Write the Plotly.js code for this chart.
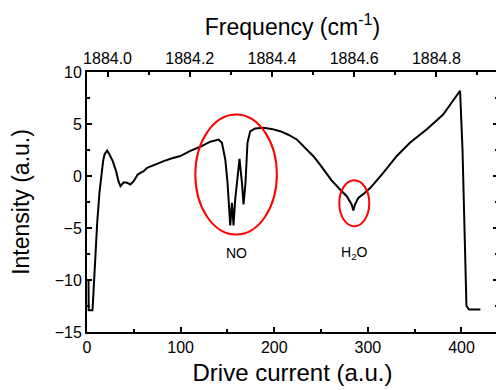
<!DOCTYPE html>
<html>
<head>
<meta charset="utf-8">
<script src="https://cdn.plot.ly/plotly-3.0.1.min.js"></script>
<style>
html,body{margin:0;padding:0;overflow:hidden;background:#fff;}
#chart{width:498px;height:390px;}
</style>
</head>
<body>
<div id="chart"></div>
<script>
// Drive current (a.u.)
var driveCurrent = [1.6, 1.8, 5.9, 7.2, 8.7, 10.9, 13.3, 15.8, 17.3, 18.7, 20.2, 21.5, 24, 27.5, 31.1, 33.6, 35.7, 37.5, 39.3, 42.8, 46.4, 49.9, 54.2, 57.5, 60.6, 64.2, 72, 81.9, 90, 99.7, 110.3, 121, 131.7, 137, 140.5, 144.1, 147.7, 150.1, 152.2, 153, 154.8, 156.5, 158.3, 160.8, 162.9, 165.5, 167.2, 169.3, 171.4, 174.3, 179.6, 188.5, 197, 206.3, 215, 224.1, 233, 241.8, 248.9, 252.5, 261, 270.3, 277.4, 282.7, 284.5, 286.2, 289.8, 296.9, 302.7, 316.4, 330.7, 344.9, 362.7, 380.4, 398.5, 401.1, 405.3, 408.1, 420.2];
// Intensity (a.u.)
var intensity = [-10.0, -12.9, -12.9, -10.3, -7.7, -4.5, -1.6, 0.63, 1.5, 2.07, 2.35, 2.45, 2.07, 1.43, 0.46, -0.5, -0.98, -0.75, -0.6, -0.65, -0.82, -0.5, 0.14, 0.33, 0.46, 0.79, 1.1, 1.43, 1.68, 1.92, 2.42, 2.81, 3.3, 3.46, 3.51, 3.19, 1.59, -0.65, -3.2, -4.76, -2.58, -4.76, -2.26, 0.3, 1.65, -0.65, -2.74, -0.65, 3.19, 4.3, 4.57, 4.63, 4.53, 4.31, 3.97, 3.51, 2.75, 1.9, 1.1, 0.62, -0.4, -1.3, -1.94, -2.74, -3.32, -2.74, -2.1, -1.62, -1.14, 0.31, 1.9, 3.19, 4.47, 5.91, 8.2, 2.5, -12.5, -12.84, -12.84];

// Frequency axis (top)
var freqRange = [1883.95, 1884.95];
var xRange = [0, 439];
var yRange = [-15, 10];

// Highlight ellipses: [x0, x1, y0, y1]
var noEllipse = [115.7, 202.8, -5.63, 5.91];
var h2oEllipse = [269.5, 301.5, -4.83, -0.4];
var labelNames = ['NO', 'H<sub>2</sub>O'];
var labelX = [160, 285.2];
var labelY = [-7.45, -7.45];

var fontFam = 'Liberation Sans, Arial, sans-serif';

var trace = {
  x: driveCurrent,
  y: intensity,
  type: 'scatter',
  mode: 'lines',
  line: {color: '#000000', width: 2},
  hoverinfo: 'skip',
  showlegend: false
};

function ellipse(e) {
  return {
    type: 'circle', xref: 'x', yref: 'y',
    x0: e[0], x1: e[1], y0: e[2], y1: e[3],
    line: {color: '#ff0000', width: 2}
  };
}

var layout = {
  width: 498, height: 390,
  margin: {l: 86.5, r: 0, t: 72, b: 58, pad: 0},
  paper_bgcolor: '#ffffff',
  plot_bgcolor: '#ffffff',
  font: {family: fontFam, color: '#000000', size: 16},
  showlegend: false,
  xaxis: {
    range: xRange, dtick: 100, tick0: 0,
    ticks: 'inside', ticklen: 5, tickwidth: 2, tickcolor: '#000',
    minor: {dtick: 50, ticks: 'inside', ticklen: 3, tickwidth: 2, tickcolor: '#000'},
    showline: true, linewidth: 2, linecolor: '#000',
    showgrid: false, zeroline: false,
    tickfont: {size: 16, family: fontFam},
    title: {text: 'Drive current (a.u.)', font: {size: 24, family: fontFam}, standoff: 9}
  },
  xaxis2: {
    overlaying: 'x', side: 'top', anchor: 'y',
    range: freqRange, dtick: 0.2, tick0: 1884.0, tickformat: '.1f',
    ticks: 'inside', ticklen: 5, tickwidth: 2, tickcolor: '#000',
    minor: {dtick: 0.1, ticks: 'inside', ticklen: 3, tickwidth: 2, tickcolor: '#000'},
    showline: true, linewidth: 2, linecolor: '#000',
    showgrid: false, zeroline: false,
    tickfont: {size: 16, family: fontFam},
    title: {text: 'Frequency (cm<sup>-1</sup>)', font: {size: 23, family: fontFam}, standoff: 8}
  },
  yaxis: {
    range: yRange, dtick: 5, tick0: 0,
    ticks: 'inside', ticklen: 5, tickwidth: 2, tickcolor: '#000',
    minor: {dtick: 2.5, ticks: 'inside', ticklen: 3, tickwidth: 2, tickcolor: '#000'},
    mirror: 'ticks',
    showline: true, linewidth: 2, linecolor: '#000',
    showgrid: false, zeroline: false,
    tickfont: {size: 16, family: fontFam},
    title: {text: 'Intensity (a.u.)', font: {size: 23, family: fontFam}, standoff: 19}
  },
  shapes: [ellipse(noEllipse), ellipse(h2oEllipse)],
  annotations: labelNames.map(function (t, i) {
    return {
      x: labelX[i], y: labelY[i], xref: 'x', yref: 'y',
      text: t, showarrow: false,
      font: {size: 14, family: fontFam, color: '#000'}
    };
  })
};

var freqTrace = {
  x: freqRange, y: [null, null], xaxis: 'x2', yaxis: 'y',
  type: 'scatter', mode: 'lines', hoverinfo: 'skip', showlegend: false
};

Plotly.newPlot('chart', [trace, freqTrace], layout, {staticPlot: true, displayModeBar: false});
</script>
</body>
</html>
